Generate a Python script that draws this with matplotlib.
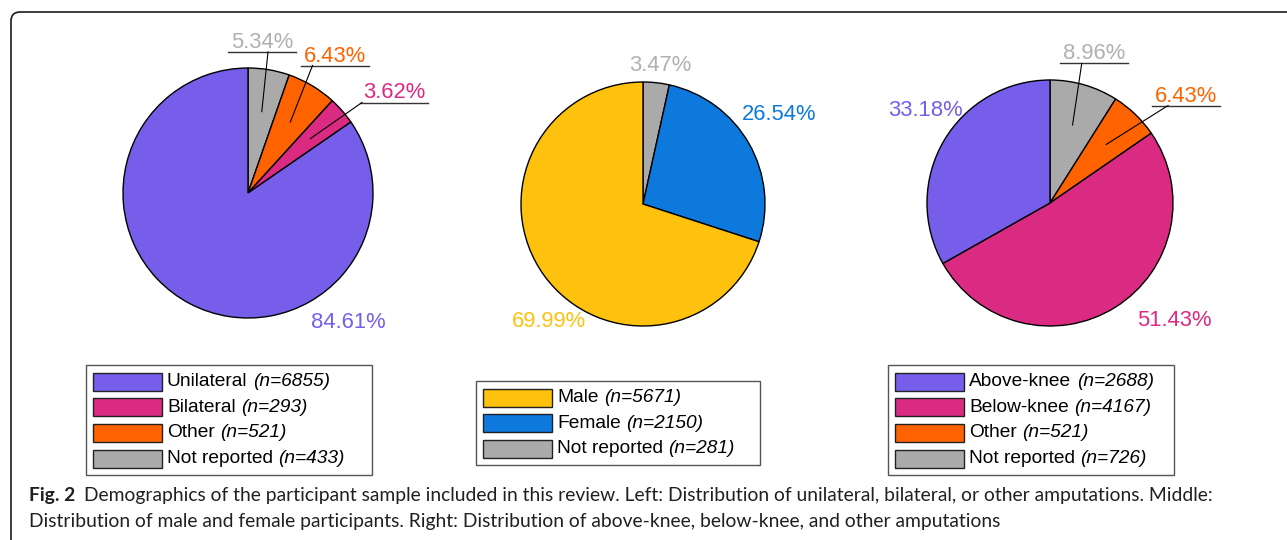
import numpy as np
import matplotlib
matplotlib.use("Agg")
import matplotlib.pyplot as plt
from matplotlib.patches import Rectangle, FancyBboxPatch

W, H = 1287, 540

# ---- data -------------------------------------------------------------
amp_labels = ["Unilateral", "Bilateral", "Other", "Not reported"]
amp_counts = [6855, 293, 521, 433]
amp_pcts = ["84.61%", "3.62%", "6.43%", "5.34%"]

sex_labels = ["Male", "Female", "Not reported"]
sex_counts = [5671, 2150, 281]
sex_pcts = ["69.99%", "26.54%", "3.47%"]

level_labels = ["Above-knee", "Below-knee", "Other", "Not reported"]
level_counts = [2688, 4167, 521, 726]
level_pcts = ["33.18%", "51.43%", "6.43%", "8.96%"]

caption_bold = "Fig. 2"
caption_1 = ("Demographics of the participant sample included in this review. "
             "Left: Distribution of unilateral, bilateral, or other amputations. Middle:")
caption_2 = ("Distribution of male and female participants. Right: Distribution of "
             "above-knee, below-knee, and other amputations")

# ---- colours ----------------------------------------------------------
PURPLE = "#765eeb"
MAGENTA = "#db2a82"
ORANGE = "#ff6300"
GRAY = "#aaaaaa"
YELLOW = "#fec10e"
BLUE = "#0e79dc"

amp_colors = [PURPLE, MAGENTA, ORANGE, GRAY]
sex_colors = [YELLOW, BLUE, GRAY]
level_colors = [PURPLE, MAGENTA, ORANGE, GRAY]

LABEL_FONT = "Liberation Sans"

fig = plt.figure(figsize=(W / 100, H / 100), dpi=100)

# background axes in pixel coordinates (border, legends, caption)
bg = fig.add_axes([0, 0, 1, 1])
bg.set_xlim(0, W)
bg.set_ylim(H, 0)
bg.axis("off")

bg.add_patch(FancyBboxPatch((11, 12), W + 40, H + 40,
                            boxstyle="round,pad=0,rounding_size=9",
                            facecolor="none", edgecolor="#1a1a1a", linewidth=1.2))


def draw_pie(cx, cy, r, counts, colors, pcts, label_pos):
    # label_pos: (x, y, leader_dx) in pie radius units, leader_dx None -> plain label
    ax = fig.add_axes([(cx - r) / W, 1 - (cy + r) / H, 2 * r / W, 2 * r / H])
    wedges, _ = ax.pie(counts[::-1], colors=colors[::-1], startangle=90,
                       counterclock=False,
                       wedgeprops=dict(edgecolor="black", linewidth=1))
    wedges = wedges[::-1]
    ax.set_xlim(-1, 1)
    ax.set_ylim(-1, 1)
    ax.axis("off")
    for w in wedges:
        w.set_clip_on(False)

    for w, txt, col, (tx, ty, lead) in zip(wedges, pcts, colors, label_pos):
        tcol = "#b0b0b0" if col == GRAY else col
        base = ty - 7.5 / r
        ax.text(tx, base, txt, color=tcol, ha="center", va="baseline",
                fontsize=15.8, family=LABEL_FONT)
        if lead is not None:
            uy = base - 4 / r
            half = 34 / r
            ax.plot([tx - half, tx + half], [uy, uy], color="#333333",
                    lw=1.0, clip_on=False)
            ang = np.deg2rad((w.theta1 + w.theta2) / 2)
            ax.plot([tx + lead, 0.66 * np.cos(ang)], [uy, 0.66 * np.sin(ang)],
                    color="black", lw=0.8, clip_on=False)


def draw_legend(x0, y0, width, labels, counts, colors):
    n = len(labels)
    step = 25.7
    height = (n - 1) * step + 33
    bg.add_patch(Rectangle((x0, y0), width, height, facecolor="white",
                           edgecolor="#555555", linewidth=1.0))
    for i, (lab, cnt, col) in enumerate(zip(labels, counts, colors)):
        yc = y0 + 16.5 + i * step
        bg.add_patch(Rectangle((x0 + 7, yc - 9), 69, 18, facecolor=col,
                               edgecolor="#222222", linewidth=1.0))
        t = bg.text(x0 + 81, yc, lab, ha="left", va="center",
                    fontsize=13.8, family=LABEL_FONT, color="black")
        bg.annotate("(n=%d)" % cnt, xy=(1, 0), xycoords=t, xytext=(4, 0),
                    textcoords="offset points", ha="left", va="bottom",
                    fontsize=13.8, family=LABEL_FONT, fontstyle="italic",
                    color="black")


# left: amputation type
draw_pie(248, 193, 125, amp_counts, amp_colors, amp_pcts,
         [(0.80, -1.016, None), (1.168, 0.816, -0.256),
          (0.696, 1.112, -0.18), (0.11, 1.22, 0.05)])
# middle: sex
draw_pie(643, 204, 122, sex_counts, sex_colors, sex_pcts,
         [(-0.77, -0.943, None), (1.119, 0.754, None), (0.139, 1.148, None)])
# right: amputation level
draw_pie(1050, 203, 123, level_counts, level_colors, level_pcts,
         [(-1.016, 0.772, None), (1.008, -0.935, None),
          (1.106, 0.886, -0.146), (0.358, 1.228, -0.1)])

draw_legend(86, 365, 286, amp_labels, amp_counts, amp_colors)
draw_legend(476, 381, 284, sex_labels, sex_counts, sex_colors)
draw_legend(888, 365, 286, level_labels, level_counts, level_colors)

# caption
CAP_FONT = "Lato"
CAP_SIZE = 13.9
fb = bg.text(29, 501, caption_bold, ha="left", va="baseline", fontsize=CAP_SIZE,
             family=CAP_FONT, fontweight="bold", color="#231f20")
bg.annotate(caption_1, xy=(1, 0), xycoords=fb, xytext=(6, 0),
            textcoords="offset points", ha="left", va="bottom", fontsize=CAP_SIZE,
            family=CAP_FONT, color="#231f20")
bg.text(29, 527, caption_2, ha="left", va="baseline", fontsize=CAP_SIZE,
        family=CAP_FONT, color="#231f20")

fig.savefig("out.png", dpi=100)
